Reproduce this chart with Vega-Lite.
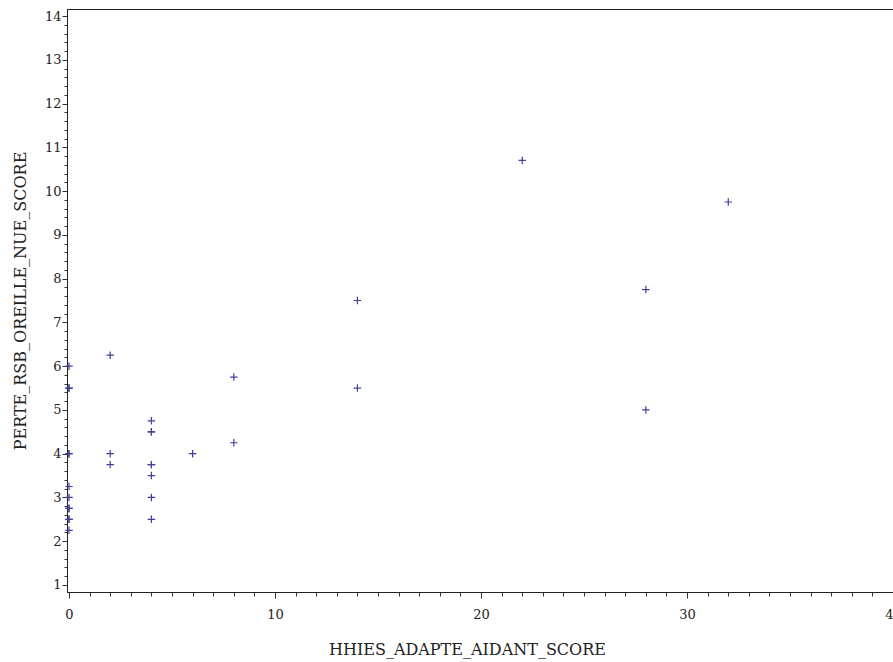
{
  "$schema": "https://vega.github.io/schema/vega-lite/v6.json",
  "autosize": {"type": "none"},
  "padding": {"left": 67, "top": 9, "right": 0, "bottom": 70},
  "width": 830,
  "height": 583,
  "background": "white",
  "config": {
    "font": "DejaVu Serif",
    "view": {"stroke": "#222222", "strokeWidth": 1},
    "axis": {
      "labelFont": "DejaVu Serif",
      "titleFont": "DejaVu Serif",
      "labelFontSize": 13,
      "titleFontSize": 16,
      "labelColor": "#222222",
      "titleColor": "#222222",
      "titleFontWeight": "normal",
      "domainColor": "#222222",
      "tickColor": "#333333",
      "grid": false
    }
  },
  "data": {
    "values": [
      {"HHIES_ADAPTE_AIDANT_SCORE": 0, "PERTE_RSB_OREILLE_NUE_SCORE": 6},
      {"HHIES_ADAPTE_AIDANT_SCORE": 0, "PERTE_RSB_OREILLE_NUE_SCORE": 5.5},
      {"HHIES_ADAPTE_AIDANT_SCORE": 0, "PERTE_RSB_OREILLE_NUE_SCORE": 5.5},
      {"HHIES_ADAPTE_AIDANT_SCORE": 0, "PERTE_RSB_OREILLE_NUE_SCORE": 4},
      {"HHIES_ADAPTE_AIDANT_SCORE": 0, "PERTE_RSB_OREILLE_NUE_SCORE": 4},
      {"HHIES_ADAPTE_AIDANT_SCORE": 0, "PERTE_RSB_OREILLE_NUE_SCORE": 3.25},
      {"HHIES_ADAPTE_AIDANT_SCORE": 0, "PERTE_RSB_OREILLE_NUE_SCORE": 3},
      {"HHIES_ADAPTE_AIDANT_SCORE": 0, "PERTE_RSB_OREILLE_NUE_SCORE": 2.75},
      {"HHIES_ADAPTE_AIDANT_SCORE": 0, "PERTE_RSB_OREILLE_NUE_SCORE": 2.75},
      {"HHIES_ADAPTE_AIDANT_SCORE": 0, "PERTE_RSB_OREILLE_NUE_SCORE": 2.5},
      {"HHIES_ADAPTE_AIDANT_SCORE": 0, "PERTE_RSB_OREILLE_NUE_SCORE": 2.5},
      {"HHIES_ADAPTE_AIDANT_SCORE": 0, "PERTE_RSB_OREILLE_NUE_SCORE": 2.25},
      {"HHIES_ADAPTE_AIDANT_SCORE": 2, "PERTE_RSB_OREILLE_NUE_SCORE": 6.25},
      {"HHIES_ADAPTE_AIDANT_SCORE": 2, "PERTE_RSB_OREILLE_NUE_SCORE": 4},
      {"HHIES_ADAPTE_AIDANT_SCORE": 2, "PERTE_RSB_OREILLE_NUE_SCORE": 3.75},
      {"HHIES_ADAPTE_AIDANT_SCORE": 4, "PERTE_RSB_OREILLE_NUE_SCORE": 4.75},
      {"HHIES_ADAPTE_AIDANT_SCORE": 4, "PERTE_RSB_OREILLE_NUE_SCORE": 4.5},
      {"HHIES_ADAPTE_AIDANT_SCORE": 4, "PERTE_RSB_OREILLE_NUE_SCORE": 4.5},
      {"HHIES_ADAPTE_AIDANT_SCORE": 4, "PERTE_RSB_OREILLE_NUE_SCORE": 3.75},
      {"HHIES_ADAPTE_AIDANT_SCORE": 4, "PERTE_RSB_OREILLE_NUE_SCORE": 3.75},
      {"HHIES_ADAPTE_AIDANT_SCORE": 4, "PERTE_RSB_OREILLE_NUE_SCORE": 3.5},
      {"HHIES_ADAPTE_AIDANT_SCORE": 4, "PERTE_RSB_OREILLE_NUE_SCORE": 3},
      {"HHIES_ADAPTE_AIDANT_SCORE": 4, "PERTE_RSB_OREILLE_NUE_SCORE": 2.5},
      {"HHIES_ADAPTE_AIDANT_SCORE": 6, "PERTE_RSB_OREILLE_NUE_SCORE": 4},
      {"HHIES_ADAPTE_AIDANT_SCORE": 8, "PERTE_RSB_OREILLE_NUE_SCORE": 5.75},
      {"HHIES_ADAPTE_AIDANT_SCORE": 8, "PERTE_RSB_OREILLE_NUE_SCORE": 4.25},
      {"HHIES_ADAPTE_AIDANT_SCORE": 14, "PERTE_RSB_OREILLE_NUE_SCORE": 7.5},
      {"HHIES_ADAPTE_AIDANT_SCORE": 14, "PERTE_RSB_OREILLE_NUE_SCORE": 5.5},
      {"HHIES_ADAPTE_AIDANT_SCORE": 22, "PERTE_RSB_OREILLE_NUE_SCORE": 10.7},
      {"HHIES_ADAPTE_AIDANT_SCORE": 28, "PERTE_RSB_OREILLE_NUE_SCORE": 7.75},
      {"HHIES_ADAPTE_AIDANT_SCORE": 28, "PERTE_RSB_OREILLE_NUE_SCORE": 5},
      {"HHIES_ADAPTE_AIDANT_SCORE": 32, "PERTE_RSB_OREILLE_NUE_SCORE": 9.75}
    ]
  },
  "mark": {
    "type": "point",
    "shape": "M-1,0H1M0,-1V1",
    "filled": false,
    "size": 56,
    "strokeWidth": 1.2,
    "color": "#40409c",
    "opacity": 1
  },
  "encoding": {
    "x": {
      "field": "HHIES_ADAPTE_AIDANT_SCORE",
      "type": "quantitative",
      "scale": {"domain": [-0.097, 40.19], "nice": false, "zero": false},
      "axis": {
        "title": "HHIES_ADAPTE_AIDANT_SCORE",
        "values": [0,1,2,3,4,5,6,7,8,9,10,11,12,13,14,15,16,17,18,19,20,21,22,23,24,25,26,27,28,29,30,31,32,33,34,35,36,37,38,39,40],
        "labelExpr": "datum.value % 10 === 0 ? format(datum.value, 'd') : ''",
        "tickSize": {"condition": {"test": "datum.value % 10 === 0", "value": 6}, "value": 4},
        "labelPadding": 10,
        "labelFlush": false,
        "labelOverlap": false,
        "titleX": 400,
        "titleY": 49,
        "titleBaseline": "top"
      }
    },
    "y": {
      "field": "PERTE_RSB_OREILLE_NUE_SCORE",
      "type": "quantitative",
      "scale": {"domain": [0.84, 14.16], "nice": false, "zero": false},
      "axis": {
        "title": "PERTE_RSB_OREILLE_NUE_SCORE",
        "values": [1,1.2,1.4,1.6,1.8,2,2.2,2.4,2.6,2.8,3,3.2,3.4,3.6,3.8,4,4.2,4.4,4.6,4.8,5,5.2,5.4,5.6,5.8,6,6.2,6.4,6.6,6.8,7,7.2,7.4,7.6,7.8,8,8.2,8.4,8.6,8.8,9,9.2,9.4,9.6,9.8,10,10.2,10.4,10.6,10.8,11,11.2,11.4,11.6,11.8,12,12.2,12.4,12.6,12.8,13,13.2,13.4,13.6,13.8,14],
        "labelExpr": "abs(datum.value - round(datum.value)) < 0.001 ? format(datum.value, 'd') : ''",
        "tickSize": {"condition": {"test": "abs(datum.value - round(datum.value)) < 0.001", "value": 5}, "value": 3},
        "labelPadding": 1,
        "labelFlush": false,
        "labelOverlap": false,
        "titleX": -47,
        "titleBaseline": "middle"
      }
    }
  }
}
